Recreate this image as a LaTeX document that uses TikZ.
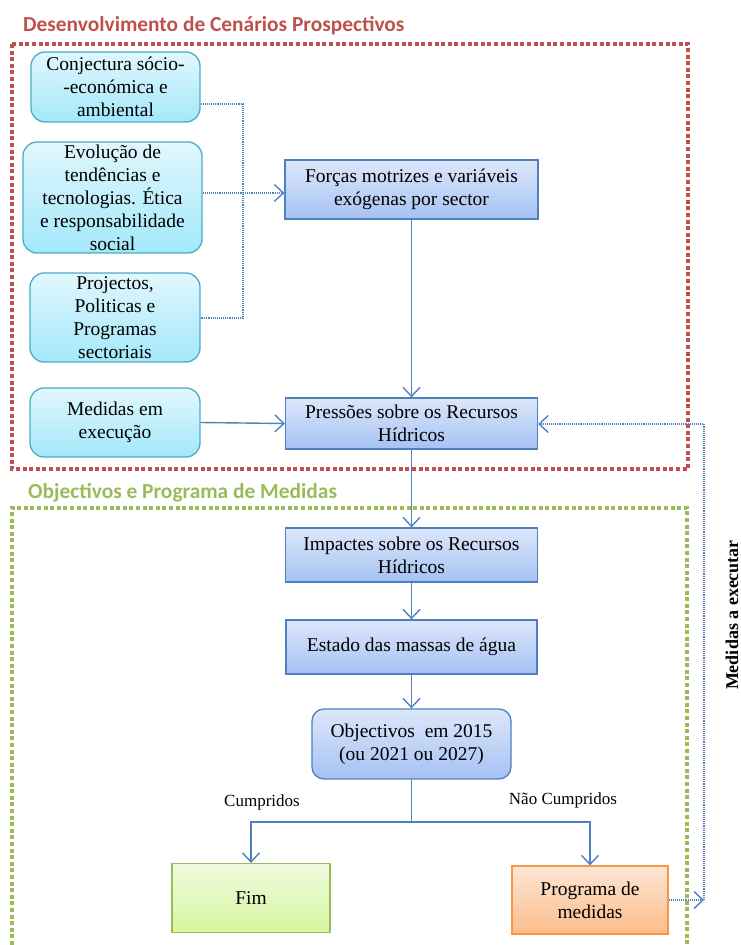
\documentclass[tikz,border=0pt]{standalone}
\usepackage{fontspec}
\setmainfont{Liberation Serif}
\newfontfamily\headfont{Carlito}
\usetikzlibrary{arrows.meta}

\definecolor{frameRed}{HTML}{C0504D}
\definecolor{frameGreen}{HTML}{9BBB59}
\definecolor{linkBlue}{HTML}{4F81BD}
\definecolor{cyanTop}{HTML}{E1F7FD}
\definecolor{cyanBot}{HTML}{A3E8FA}
\definecolor{cyanLine}{HTML}{4BACC6}
\definecolor{blueTop}{HTML}{DDE7FA}
\definecolor{blueBot}{HTML}{A5C2F4}
\definecolor{greenTop}{HTML}{F0FADF}
\definecolor{greenBot}{HTML}{D5F69E}
\definecolor{orangeTop}{HTML}{FDE6D4}
\definecolor{orangeBot}{HTML}{FBBD8B}
\definecolor{orangeLine}{HTML}{F79646}

\newcommand{\bodysize}{\fontsize{19.5}{23}\selectfont}
\newcommand{\labelsize}{\fontsize{17}{20}\selectfont}

\tikzset{
  box/.style={inner sep=0pt, align=center, font=\bodysize, line width=1.3pt},
  cyanbox/.style={box, rounded corners=14pt, draw=cyanLine, top color=cyanTop, bottom color=cyanBot},
  bluebox/.style={box, draw=linkBlue, top color=blueTop, bottom color=blueBot},
  roundblue/.style={bluebox, rounded corners=12pt},
  endbox/.style={box, draw=frameGreen, top color=greenTop, bottom color=greenBot},
  actbox/.style={box, draw=orangeLine, top color=orangeTop, bottom color=orangeBot},
  tip/.tip={Straight Barb[length=9pt,width=17pt,line width=1.4pt]},
  flow/.style={draw=linkBlue, line width=1.4pt, -tip},
  fine/.style={draw=linkBlue, line width=1.1pt, dash pattern=on 1.1pt off 1pt},
  frame/.style={line width=4pt, dash pattern=on 4pt off 2.6pt},
  head/.style={anchor=base west, inner sep=0pt, font=\headfont\bfseries\fontsize{21.4}{24}\selectfont},
  branch/.style={inner sep=0pt, font=\labelsize}
}

\begin{document}
\begin{tikzpicture}[x=1pt,y=-1pt]
  \useasboundingbox (0,0) rectangle (741,945);

  % section frames and headings
  \draw[frame, frameRed] (12,44) rectangle (688,469);
  \draw[frame, frameGreen] (12,945) -- (12,508) -- (687,508) -- (687,945);
  \node[head, text=frameRed] (t1) at (23,31) {Desenvolvimento de Cenários Prospectivos};
  \node[head, text=frameGreen] (t2) at (28,498) {Objectivos e Programa de Medidas};

  % scenario inputs
  \node[cyanbox, minimum width=169, minimum height=70] (b1) at (115.5,87)
    {Conjectura sócio-\\-económica e\\ambiental};
  \node[cyanbox, minimum width=179, minimum height=111] (b2) at (112.5,197.5)
    {Evolução de\\tendências e\\tecnologias. Ética\\e responsabilidade\\social};
  \node[cyanbox, minimum width=170, minimum height=89] (b3) at (115,317.5)
    {Projectos,\\Politicas e\\Programas\\sectoriais};
  \node[cyanbox, minimum width=170, minimum height=69] (b4) at (115,422.5)
    {Medidas em\\execução};

  % main chain
  \node[bluebox, minimum width=253, minimum height=59] (forcas) at (411.5,189.5)
    {Forças motrizes e variáveis\\exógenas por sector};
  \node[bluebox, minimum width=252, minimum height=51] (pres) at (411.5,423.5)
    {Pressões sobre os Recursos\\Hídricos};
  \node[bluebox, minimum width=252, minimum height=54] (imp) at (411.5,555)
    {Impactes sobre os Recursos\\Hídricos};
  \node[bluebox, minimum width=251, minimum height=54] (est) at (411.5,647)
    {Estado das massas de água};
  \node[roundblue, minimum width=199, minimum height=70] (obj) at (411.5,744)
    {Objectivos\ \ em 2015\\(ou 2021 ou 2027)};
  \node[endbox, minimum width=158, minimum height=69] (fim) at (251,898) {Fim};
  \node[actbox, minimum width=156, minimum height=68] (prog) at (590,900)
    {Programa de\\medidas};

  % dotted bus collecting the inputs
  \coordinate (j1) at (243,104);
  \coordinate (j2) at (243,193);
  \coordinate (j3) at (243,318);
  \draw[fine] (b1.east |- j1) -- (j1) -- (j3) -- (b3.east |- j3);
  \draw[fine] (b2.east |- j2) -- (j2);
  \draw[fine, -tip] (j2) -- (forcas.west |- j2);

  % solid flow
  \draw[flow] (forcas.south) -- (pres.north);
  \draw[flow] (b4.east) -- (pres.west);
  \draw[flow] (pres.south) -- (imp.north);
  \draw[flow] (imp.south) -- (est.north);
  \draw[flow] (est.south) -- (obj.north);
  \coordinate (sp) at (411.5,822);
  \draw[flow] (obj.south) -- (sp) -| (fim.north);
  \draw[flow] (sp) -| (prog.north);
  \node[branch] (lc) at (262,802) {Cumpridos};
  \node[branch] (lnc) at (563,800) {Não Cumpridos};

  % feedback of measures
  \coordinate (rb) at (704,900);
  \coordinate (rt) at (704,424);
  \draw[fine, -tip] (prog.east) -- (rb);
  \draw[fine, -tip] (rb) -- (rt) -- (pres.east |- rt);
  \node[rotate=90, inner sep=0pt, font=\bfseries\fontsize{18}{20}\selectfont] (me) at (732,615)
    {Medidas a executar};
\end{tikzpicture}
\end{document}
